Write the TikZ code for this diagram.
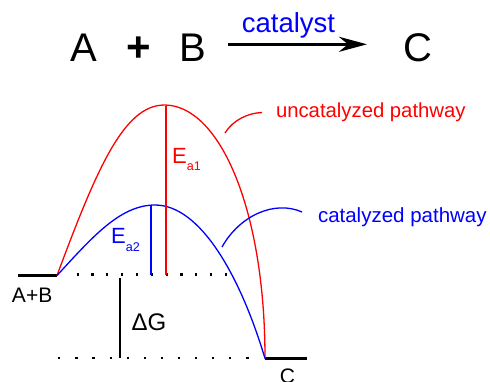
\documentclass[tikz,border=0pt]{standalone}
\usepackage{fontspec}
\setmainfont{Liberation Sans}
\usetikzlibrary{arrows.meta}
\newcommand{\fs}[1]{\fontsize{#1}{#1}\selectfont}
\tikzset{
  lbl/.style={inner sep=0pt, outer sep=0pt},
  curve/.style={line width=1.3pt},
  level/.style={line width=2.4pt},
  dotline/.style={line width=2.2pt},
}
\begin{document}
\begin{tikzpicture}[x=1pt,y=-1pt]
\useasboundingbox (0,0) rectangle (490,381);
% title reaction
\node[lbl, anchor=base] (tA) at (84,61) {\fs{40}A};
\node[lbl, anchor=base] (tplus) at (139,61) {\fs{42}\bfseries +};
\node[lbl, anchor=base] (tB) at (192.5,61) {\fs{40}B};
\node[lbl, anchor=base] (tC) at (418,61) {\fs{40}C};
\node[lbl, anchor=base, text=blue] (tcat) at (288.5,32) {\fs{27.5}catalyst};
\coordinate (arrS) at (228,44.3);
\coordinate (arrE) at (367,44.3);
\draw[line width=3.3pt, -{Stealth[length=28pt,width=15pt,inset=9pt]}] (arrS) -- (arrE);
% energy levels
\coordinate (AB) at (57,275.5);
\coordinate (Cp) at (265,358.5);
\coordinate (ABl) at (18,275.5);
\coordinate (Cr) at (307,358.5);
\coordinate (redpk) at (164.5,105);
\coordinate (bluepk) at (155,205);
\draw[level] (ABl) -- (AB);
\draw[level] (Cp) -- (Cr);
% dotted lines
\coordinate (d1s) at (76.6,274.5);
\coordinate (d1e) at (227.4,274.5);
\coordinate (d2s) at (58.2,358.3);
\coordinate (d2e) at (248.6,358.3);
\draw[dotline, dash pattern=on 2.2pt off 12.63pt] (d1s) -- (d1e);
\draw[dotline, dash pattern=on 2.2pt off 14.9pt] (d2s) -- (d2e);
% Delta G line
\coordinate (dgt) at (120,278.3);
\coordinate (dgb) at (120,357.7);
\draw[line width=2pt] (dgt) -- (dgb);
% curves
\draw[curve, red] (AB) .. controls (97,168) and (124,105) .. (redpk)
  .. controls (219,105) and (265,208) .. (Cp);
\draw[curve, blue] (AB) .. controls (92,237.5) and (120,205) .. (bluepk)
  .. controls (200,205) and (240,275) .. (Cp);
% activation energy lines
\coordinate (r1) at (166,105.5);
\coordinate (r2) at (166,275);
\coordinate (b1) at (151,205.5);
\coordinate (b2) at (151,275);
\draw[line width=1.4pt, draw=red] (r1) -- (r2);
\draw[line width=1.4pt, draw=blue] (b1) -- (b2);
% leaders
\coordinate (rl1) at (225,133);
\coordinate (rl2) at (262,112.5);
\coordinate (bl1) at (222,247);
\coordinate (bl2) at (302,212);
\draw[curve, red] (rl1) .. controls (233,120) and (248,113) .. (rl2);
\draw[curve, blue] (bl1) .. controls (240,215) and (275,200) .. (bl2);
% labels
\node[lbl, anchor=base west, text=red] (unc) at (276,117.7) {\fs{20.3}uncatalyzed pathway};
\node[lbl, anchor=base west, text=blue] (cat) at (318,222.7) {\fs{20.5}catalyzed pathway};
\node[lbl, anchor=base west, text=red] (ea1) at (172.2,163) {\fs{22}E\raisebox{-7.7pt}{\fs{12.6}a1}};
\node[lbl, anchor=base west, text=blue] (ea2) at (111.2,243) {\fs{22}E\raisebox{-8.5pt}{\fs{12.6}a2}};
\node[lbl, anchor=base west] (lab) at (12,302) {\fs{21}A+B};
\node[lbl, anchor=base west] (ldg) at (131.5,330) {\fs{24}ΔG};
\node[lbl, anchor=base] (lc) at (287.5,383.3) {\fs{21}C};
\end{tikzpicture}
\end{document}
